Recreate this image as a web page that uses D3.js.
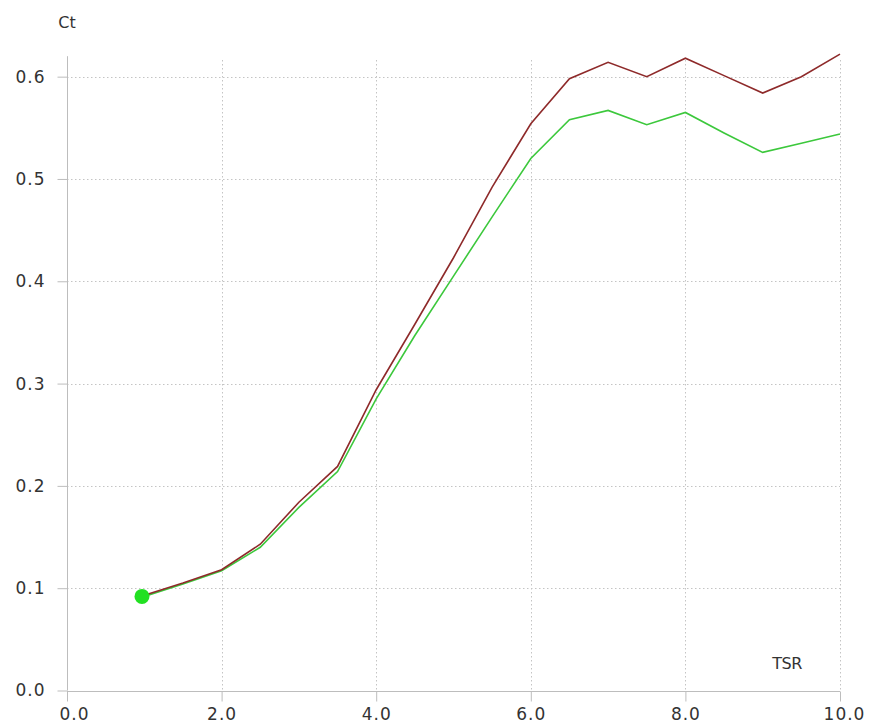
<!DOCTYPE html>
<html>
<head>
<meta charset="utf-8">
<script src="https://cdn.jsdelivr.net/npm/d3@7"></script>
<style>
  html, body { margin: 0; padding: 0; background: #fff; }
  svg { display: block; }
  text { font-family: "DejaVu Sans", sans-serif; fill: #333; }
</style>
</head>
<body>
<svg id="chart" width="872" height="728"></svg>
<script>
// Tip speed ratio samples
const tsr = [1.0, 1.5, 2.0, 2.5, 3.0, 3.5, 4.0, 4.5, 5.0, 5.5, 6.0, 6.5, 7.0, 7.5, 8.0, 8.5, 9.0, 9.5, 10.0];
// Thrust coefficient, upper (dark red) curve
const ctUpper = [0.093, 0.105, 0.118, 0.143, 0.184, 0.219, 0.294, 0.358, 0.423, 0.492, 0.554, 0.598, 0.614, 0.600, 0.618, 0.601, 0.584, 0.600, 0.622];
// Thrust coefficient, lower (green) curve
const ctLower = [0.092, 0.104, 0.117, 0.140, 0.179, 0.214, 0.285, 0.347, 0.405, 0.463, 0.520, 0.558, 0.567, 0.553, 0.565, 0.545, 0.526, 0.535, 0.544];
// Current operating point
const opTSR = [0.97];
const opCt = [0.092];
// Axis ticks
const xTicks = [0, 2, 4, 6, 8, 10];
const yTicks = [0, 0.1, 0.2, 0.3, 0.4, 0.5, 0.6];

const svg = d3.select("#chart");
const x = d3.scaleLinear().domain([0, 10]).range([67, 840]);
const y = d3.scaleLinear().domain([0, 0.62]).range([690.5, 56.2]);

// dotted grid
const grid = svg.append("g").attr("stroke", "#c4c4c4").attr("stroke-width", 1)
  .attr("stroke-dasharray", "1.5,2.5");
grid.selectAll("line.h").data(yTicks.filter(d => d > 0)).join("line")
  .attr("x1", x(0)).attr("x2", x(10))
  .attr("y1", d => Math.round(y(d)) + 0.5).attr("y2", d => Math.round(y(d)) + 0.5);
grid.selectAll("line.v").data(xTicks.filter(d => d > 0)).join("line")
  .attr("y1", 60).attr("y2", y(0))
  .attr("x1", d => Math.round(x(d)) + 0.5).attr("x2", d => Math.round(x(d)) + 0.5);

// axes
const axisColor = "#bdbdbd";
const xAxis = svg.append("g").attr("transform", `translate(0,${Math.round(y(0)) + 0.5})`)
  .call(d3.axisBottom(x).tickValues(xTicks).tickFormat(d3.format(".1f")).tickSize(10).tickPadding(6));
const yAxis = svg.append("g").attr("transform", `translate(${Math.round(x(0)) + 0.5},0)`)
  .call(d3.axisLeft(y).tickValues(yTicks).tickFormat(d3.format(".1f")).tickSize(10).tickPadding(12));
[xAxis, yAxis].forEach(g => {
  g.select(".domain").attr("stroke", axisColor).attr("d", null);
  g.selectAll(".tick line").attr("stroke", axisColor);
  g.selectAll(".tick text").attr("fill", "#333").style("font-size", "17px")
    .style("letter-spacing", "1px").attr("font-family", null);
});
// plain axis lines (no end caps)
xAxis.select(".domain").attr("d", `M${x(0)},0H${x(10)}`);
yAxis.select(".domain").attr("d", `M0,${y(0.62)}V${y(0)}`);
xAxis.selectAll(".tick line").attr("y1", 0);
xAxis.selectAll(".tick text").filter(d => d === 0).attr("dx", 7);
xAxis.selectAll(".tick text").filter(d => d === 10).attr("dx", 4);

// axis titles
svg.append("text").attr("x", 67).attr("y", 28).attr("text-anchor", "middle")
  .style("font-size", "16px").text("Ct");
svg.append("text").attr("x", 787).attr("y", 669).attr("text-anchor", "middle")
  .style("font-size", "16px").style("letter-spacing", "-0.5px").text("TSR");

// curves
const line = vals => d3.line().x((d, i) => x(tsr[i])).y(d => y(d))(vals);
svg.append("path").attr("d", line(ctLower)).attr("fill", "none")
  .attr("stroke", "#3cc83c").attr("stroke-width", 1.6);
svg.append("path").attr("d", line(ctUpper)).attr("fill", "none")
  .attr("stroke", "#8e2a2a").attr("stroke-width", 1.6);

// operating point marker
svg.selectAll("circle.op").data(opTSR).join("circle")
  .attr("cx", d => x(d)).attr("cy", (d, i) => y(opCt[i])).attr("r", 7.5)
  .attr("fill", "#22e022");
</script>
</body>
</html>
